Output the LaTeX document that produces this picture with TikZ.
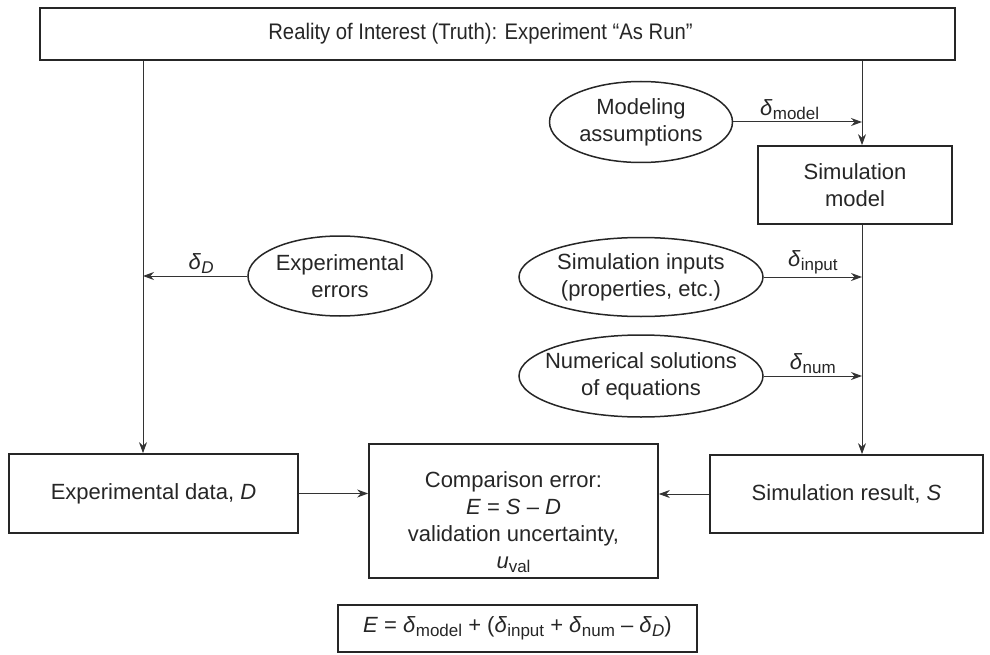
\documentclass[tikz,border=0pt]{standalone}
\usepackage{fontspec}
\setmainfont{Liberation Sans}
\newfontfamily\narrowfont[FakeStretch=0.9]{Liberation Sans}
\usetikzlibrary{arrows.meta,shapes.geometric}
\newcommand{\lsub}[1]{\raisebox{-0.35ex}{\fontsize{17}{17}\selectfont #1}}
\newcommand{\dsub}[1]{\textit{δ}\kern0.3pt\lsub{#1}}
\begin{document}
\begin{tikzpicture}[x=1pt,y=-1pt,
  font=\fontsize{22}{27}\selectfont,
  every node/.style={text=black!85},
  box/.style={draw=black!85, line width=1.7pt, rectangle, align=center, inner sep=0pt},
  ell/.style={draw=black!85, line width=1.5pt, ellipse, inner sep=0pt},
  etext/.style={align=center, inner sep=0pt},
  arr/.style={draw=black!80, line width=1pt, -{Stealth[length=11pt,width=8pt]}},
  lbl/.style={inner sep=2pt}]
\useasboundingbox (0,0) rectangle (990,655);
% boxes
\node[box, minimum width=915, minimum height=52] (top) at (497.5,34)
  {\fontsize{22.5}{27}\narrowfont Reality of Interest (Truth): Experiment “As Run”\hspace*{34pt}};
\node[box, minimum width=194, minimum height=78] (simmodel) at (855,185)
  {Simulation\\model};
\node[box, minimum width=289, minimum height=79] (expdata) at (153.5,493.5)
  {Experimental data, \textit{D}};
\node[box, minimum width=289, minimum height=134] (comp) at (513.5,511)
  {\rule{0pt}{38pt}Comparison error:\\\textit{E} = \textit{S} – \textit{D}\\validation uncertainty,\\\textit{u}\lsub{val}};
\node[box, minimum width=273, minimum height=78] (simres) at (846.5,494)
  {Simulation result, \textit{S}};
\node[box, minimum width=359, minimum height=47] (eq) at (517.5,628.5)
  {\textit{E} = \dsub{model} + (\dsub{input} + \dsub{num} – \dsub{\textit{D}})};
% ellipses
\node[ell, minimum width=183, minimum height=81] (model) at (641,122) {};
\node[etext] at (model) {Modeling\\assumptions};
\node[ell, minimum width=244, minimum height=79] (inputs) at (641,277) {};
\node[etext] at (inputs) {Simulation inputs\\(properties, etc.)};
\node[ell, minimum width=244, minimum height=82] (num) at (641,376) {};
\node[etext] at (num) {Numerical solutions\\of equations};
\node[ell, minimum width=184, minimum height=80] (experr) at (340,276) {};
\node[etext] at (experr) {Experimental\\errors};
% vertical line positions
\coordinate (lx) at (143,0);
\coordinate (rx) at (862,0);
% connectors
\draw[arr] (top.south -| lx) -- (expdata.north -| lx);
\draw[arr] (top.south -| rx) -- (simmodel.north -| rx);
\draw[arr] (simmodel.south -| rx) -- (simres.north -| rx);
\draw[arr] (model.east) -- (model.east -| rx)
  node[lbl, midway, above, xshift=-8pt] {\dsub{model}};
\draw[arr] (inputs.east) -- (inputs.east -| rx)
  node[lbl, midway, above] {\dsub{input}};
\draw[arr] (num.east) -- (num.east -| rx)
  node[lbl, midway, above] {\dsub{num}};
\draw[arr] (experr.west) -- (experr.west -| lx)
  node[lbl, midway, above, xshift=6pt] {\dsub{\textit{D}}};
\draw[arr] (expdata.east) -- (comp.west |- expdata.east);
\draw[arr] (simres.west) -- (comp.east |- simres.west);
\end{tikzpicture}
\end{document}
